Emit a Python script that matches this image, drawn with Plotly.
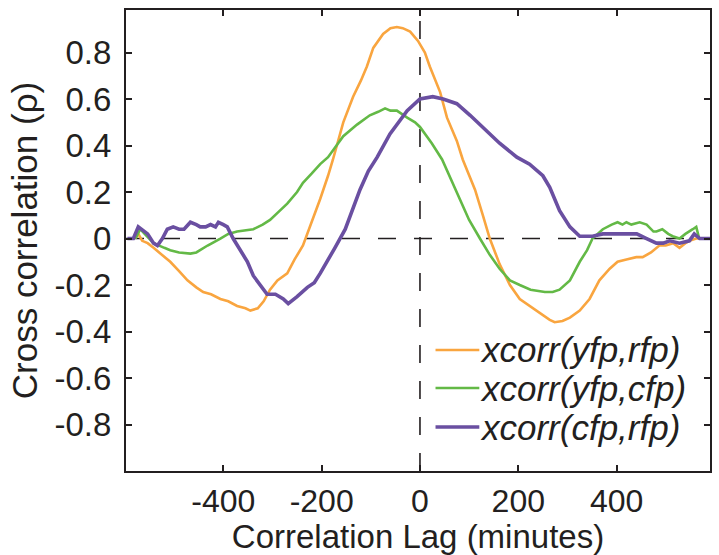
import plotly.graph_objects as go

# ---- data ----
lag_yfp_rfp = [-579, -573, -565, -554, -542, -520, -508, -490, -473, -455, -441, -425, -406, -390,
               -372, -355, -345, -330, -318, -305, -290, -270, -255, -238, -220, -203, -187, -177,
               -156, -136, -120, -108, -95, -75, -60, -47, -35, -20, -4, 10, 20, 41, 55, 75, 87,
               112, 128, 142, 162, 183, 203, 223, 244, 264, 274, 290, 305, 325, 345, 365, 386,
               402, 420, 440, 453, 470, 487, 500, 515, 528, 540, 548, 562, 570]
rho_yfp_rfp = [0.0, 0.02, -0.01, -0.02, -0.04, -0.08, -0.10, -0.14, -0.18, -0.21, -0.23, -0.24,
               -0.26, -0.27, -0.29, -0.30, -0.31, -0.30, -0.27, -0.22, -0.18, -0.15, -0.09, -0.03,
               0.07, 0.17, 0.27, 0.34, 0.50, 0.61, 0.68, 0.74, 0.82, 0.88, 0.905, 0.91, 0.905,
               0.89, 0.85, 0.80, 0.74, 0.63, 0.52, 0.42, 0.34, 0.21, 0.10, 0.0, -0.11, -0.20,
               -0.26, -0.29, -0.32, -0.35, -0.36, -0.355, -0.34, -0.31, -0.26, -0.18, -0.13,
               -0.10, -0.09, -0.08, -0.08, -0.06, -0.03, -0.03, -0.02, -0.04, -0.02, -0.01, 0.0, 0.0]

lag_yfp_cfp = [-579, -569, -560, -542, -520, -508, -490, -467, -455, -432, -406, -390, -372, -355,
               -339, -320, -305, -285, -270, -250, -238, -220, -203, -187, -170, -156, -128, -102,
               -85, -71, -60, -47, -26, -10, 0, 24, 45, 60, 81, 100, 122, 142, 162, 183, 203, 225,
               254, 270, 284, 305, 325, 340, 351, 372, 390, 402, 412, 420, 430, 447, 461, 475,
               481, 493, 505, 514, 528, 540, 555, 562, 568]
rho_yfp_cfp = [0.0, 0.04, 0.02, -0.02, -0.04, -0.05, -0.06, -0.065, -0.06, -0.03, 0.0, 0.02, 0.03,
               0.035, 0.04, 0.06, 0.08, 0.12, 0.15, 0.20, 0.24, 0.28, 0.32, 0.35, 0.40, 0.44, 0.49,
               0.53, 0.545, 0.56, 0.55, 0.55, 0.52, 0.50, 0.48, 0.41, 0.34, 0.27, 0.17, 0.08, 0.0,
               -0.07, -0.13, -0.18, -0.20, -0.22, -0.23, -0.23, -0.22, -0.18, -0.10, -0.05, 0.0,
               0.04, 0.06, 0.07, 0.06, 0.07, 0.06, 0.07, 0.06, 0.03, 0.03, 0.04, 0.02, 0.01, 0.0,
               0.02, 0.04, 0.05, 0.0]

lag_cfp_rfp = [-595, -583, -573, -562, -554, -542, -534, -524, -514, -502, -490, -480, -467, -455,
               -447, -436, -426, -416, -410, -400, -392, -380, -365, -351, -339, -325, -311, -294,
               -278, -268, -250, -229, -215, -203, -185, -173, -152, -122, -105, -87, -61, -26, 0,
               26, 47, 75, 102, 128, 162, 197, 223, 250, 264, 284, 305, 325, 351, 372, 392, 420,
               441, 461, 481, 495, 508, 528, 548, 558, 569, 593]
rho_cfp_rfp = [0.0, 0.0, 0.05, 0.03, 0.02, -0.02, -0.03, 0.0, 0.04, 0.05, 0.04, 0.04, 0.07, 0.06,
               0.05, 0.05, 0.06, 0.05, 0.07, 0.06, 0.05, 0.0, -0.05, -0.10, -0.16, -0.20, -0.24,
               -0.24, -0.26, -0.28, -0.25, -0.21, -0.19, -0.15, -0.08, -0.04, 0.04, 0.21, 0.29,
               0.35, 0.45, 0.55, 0.60, 0.61, 0.60, 0.58, 0.53, 0.48, 0.41, 0.35, 0.32, 0.27, 0.22,
               0.12, 0.05, 0.01, 0.01, 0.02, 0.02, 0.02, 0.02, 0.0, -0.02, -0.02, -0.01, -0.02,
               -0.01, 0.02, 0.0, 0.0]

series_names = ["xcorr(yfp,rfp)", "xcorr(yfp,cfp)", "xcorr(cfp,rfp)"]
series_colors = ["#F9A53F", "#63B946", "#6A4FA1"]
series_widths = [2.6, 2.6, 3.6]

x_ticks = [-400, -200, 0, 200, 400]
y_ticks = [-1.0, -0.8, -0.6, -0.4, -0.2, 0, 0.2, 0.4, 0.6, 0.8]
y_ticktext = ["", "-0.8", "-0.6", "-0.4", "-0.2", "0", "0.2", "0.4", "0.6", "0.8"]

FONT = "Liberation Sans, Arial, Helvetica, sans-serif"
INK = "#231F20"

fig = go.Figure()

xs = [lag_yfp_rfp, lag_yfp_cfp, lag_cfp_rfp]
ys = [rho_yfp_rfp, rho_yfp_cfp, rho_cfp_rfp]
for x, y, n, c, w in zip(xs, ys, series_names, series_colors, series_widths):
    fig.add_trace(go.Scatter(x=x, y=y, mode="lines", name=n,
                             line=dict(color=c, width=w), showlegend=False))

# dashed zero lines
fig.add_hline(y=0, line=dict(color=INK, width=1.6, dash="18px,18px"), layer="below")
fig.add_vline(x=0, line=dict(color=INK, width=1.6, dash="18px,18px"), layer="below")

# hand-placed legend (paper coordinates)
leg_y = [0.2625, 0.180, 0.0954]
for n, c, w, yy in zip(series_names, series_colors, series_widths, leg_y):
    fig.add_shape(type="line", xref="paper", yref="paper", x0=0.530, x1=0.605, y0=yy, y1=yy,
                  line=dict(color=c, width=w))
    fig.add_annotation(xref="paper", yref="paper", x=0.603, y=yy, text="<i>" + n + "</i>",
                       showarrow=False, xanchor="left", yanchor="middle",
                       font=dict(family=FONT, size=35, color=INK))

fig.update_layout(
    width=719, height=555,
    margin=dict(l=126, r=9, t=10, b=84, autoexpand=False),
    paper_bgcolor="white", plot_bgcolor="white",
    font=dict(family=FONT, size=33, color=INK),
    showlegend=False,
)
fig.update_xaxes(
    range=[-598, 590], tickvals=x_ticks, ticktext=[str(v) for v in x_ticks],
    ticks="inside", ticklen=6, tickwidth=1.5, tickcolor=INK,
    showline=True, linewidth=2.2, linecolor=INK, mirror="ticks",
    showgrid=False, zeroline=False,
    title=dict(text="Correlation Lag (minutes)", font=dict(size=33), standoff=8),
    tickfont=dict(size=32), ticklabelstandoff=0,
)
fig.update_yaxes(
    range=[-1.0, 0.983], tickvals=y_ticks, ticktext=y_ticktext,
    ticks="inside", ticklen=6, tickwidth=1.5, tickcolor=INK,
    showline=True, linewidth=2.2, linecolor=INK, mirror="ticks",
    showgrid=False, zeroline=False,
    title=dict(text="Cross correlation (ρ)", font=dict(size=35), standoff=6),
    tickfont=dict(size=33), ticklabelstandoff=6,
)

fig.write_html("out.html")
